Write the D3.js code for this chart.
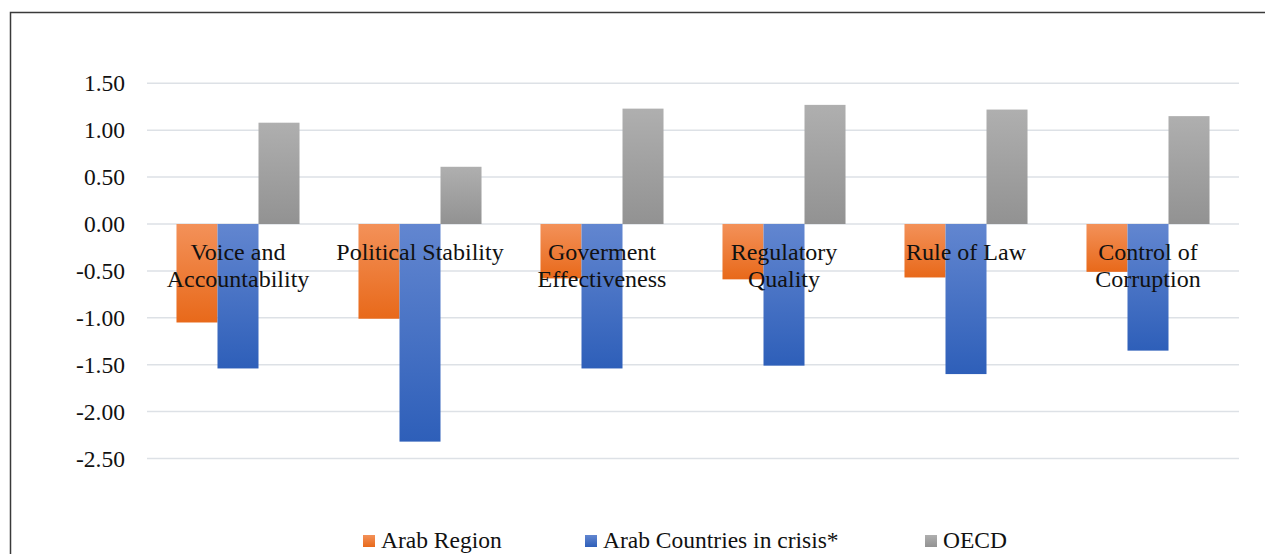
<!DOCTYPE html>
<html>
<head>
<meta charset="utf-8">
<script src="https://cdn.jsdelivr.net/npm/d3@7"></script>
<style>
  html, body { margin: 0; background: #fff; overflow: hidden; }
  svg { display: block; }
  text { font-family: "Liberation Serif", "Times New Roman", serif; }
</style>
</head>
<body>
<div id="chart"></div>
<script>
// categories (label lines) and series values
const categories = ["Voice and Accountability", "Political Stability", "Goverment Effectiveness",
                    "Regulatory Quality", "Rule of Law", "Control of Corruption"];
const categoryLines = [["Voice and", "Accountability"], ["Political Stability"], ["Goverment", "Effectiveness"],
                       ["Regulatory", "Quality"], ["Rule of Law"], ["Control of", "Corruption"]];
const seriesNames = ["Arab Region", "Arab Countries in crisis*", "OECD"];
const arabRegion = [-1.05, -1.01, -0.58, -0.59, -0.57, -0.51];
const arabCrisis = [-1.54, -2.32, -1.54, -1.51, -1.60, -1.35];
const oecd = [1.08, 0.61, 1.23, 1.27, 1.22, 1.15];
const yTicks = [1.5, 1.0, 0.5, 0.0, -0.5, -1.0, -1.5, -2.0, -2.5];

const series = [arabRegion, arabCrisis, oecd];
const colors = [["#f39159", "#e8691a"], ["#6286d0", "#2e5fb9"], ["#afafaf", "#929292"]];
const serif = "'Liberation Serif', 'Times New Roman', serif";

const width = 1265, height = 554;
const svg = d3.select("#chart").append("svg")
    .attr("width", width)
    .attr("height", height);

// gradients
const defs = svg.append("defs");
colors.forEach(function(c, i) {
  const g = defs.append("linearGradient")
      .attr("id", "grad" + i)
      .attr("x1", 0).attr("y1", 0).attr("x2", 0).attr("y2", 1);
  g.append("stop").attr("offset", "0%").attr("stop-color", c[0]);
  g.append("stop").attr("offset", "100%").attr("stop-color", c[1]);
});

// outer frame: only the top and left edges are inside the page
svg.append("path")
    .attr("d", "M10.5," + (height + 10) + "V12.5H" + (width + 10))
    .attr("fill", "none")
    .attr("stroke", "#3a3a3a")
    .attr("stroke-width", 1.5);

// scales
var x = d3.scaleBand()
    .domain(categories)
    .range([147, 1239])
    .paddingInner(0.324)
    .paddingOuter(0.162);
var xs = d3.scaleBand()
    .domain(d3.range(series.length))
    .range([0, x.bandwidth()]);
var y = d3.scaleLinear()
    .domain([-2.5, 1.5])
    .range([458.5, 83.3]);

const fmt = function(d) { return d3.format(".2f")(d).replace("\u2212", "-"); };

// gridlines
svg.append("g")
  .selectAll("line")
  .data(yTicks)
  .join("line")
    .attr("x1", 147).attr("x2", 1239)
    .attr("y1", function(d) { return y(d); })
    .attr("y2", function(d) { return y(d); })
    .attr("stroke", "#dde1e6")
    .attr("stroke-width", 1.5);

// Y axis
svg.append("g")
    .attr("transform", "translate(125,0)")
    .call(d3.axisLeft(y).tickValues(yTicks).tickFormat(fmt).tickSize(0).tickPadding(0))
    .call(function(g) { g.select(".domain").remove(); })
    .call(function(g) {
      g.attr("font-family", null).attr("font-size", null);
      g.selectAll("text")
        .style("font-family", serif)
        .style("font-size", "23.5px")
        .attr("fill", "#111");
    });

// bars
series.forEach(function(vals, si) {
  svg.append("g")
    .selectAll("rect")
    .data(vals)
    .join("rect")
      .attr("x", function(d, i) { return x(categories[i]) + xs(si); })
      .attr("width", xs.bandwidth())
      .attr("y", function(d) { return d >= 0 ? y(d) : y(0); })
      .attr("height", function(d) { return Math.abs(y(d) - y(0)); })
      .attr("fill", "url(#grad" + si + ")");
});

// category labels over the bars
const lab = svg.append("g");
categoryLines.forEach(function(lines, i) {
  const t = lab.append("text")
      .attr("x", x(categories[i]) + x.bandwidth() / 2)
      .attr("y", 260)
      .attr("text-anchor", "middle")
      .style("font-family", serif)
      .style("font-size", "24px")
      .attr("fill", "#111");
  lines.forEach(function(l, j) {
    t.append("tspan")
      .attr("x", x(categories[i]) + x.bandwidth() / 2)
      .attr("dy", j === 0 ? 0 : 27)
      .text(l);
  });
});

// legend
const legendX = [363, 585, 925];
const legend = svg.append("g");
seriesNames.forEach(function(n, i) {
  legend.append("rect")
      .attr("x", legendX[i]).attr("y", 535)
      .attr("width", 12).attr("height", 12)
      .attr("fill", "url(#grad" + i + ")");
  legend.append("text")
      .attr("x", legendX[i] + 18).attr("y", 548)
      .style("font-family", serif)
      .style("font-size", "23.5px")
      .attr("fill", "#111")
      .text(n);
});
</script>
</body>
</html>
